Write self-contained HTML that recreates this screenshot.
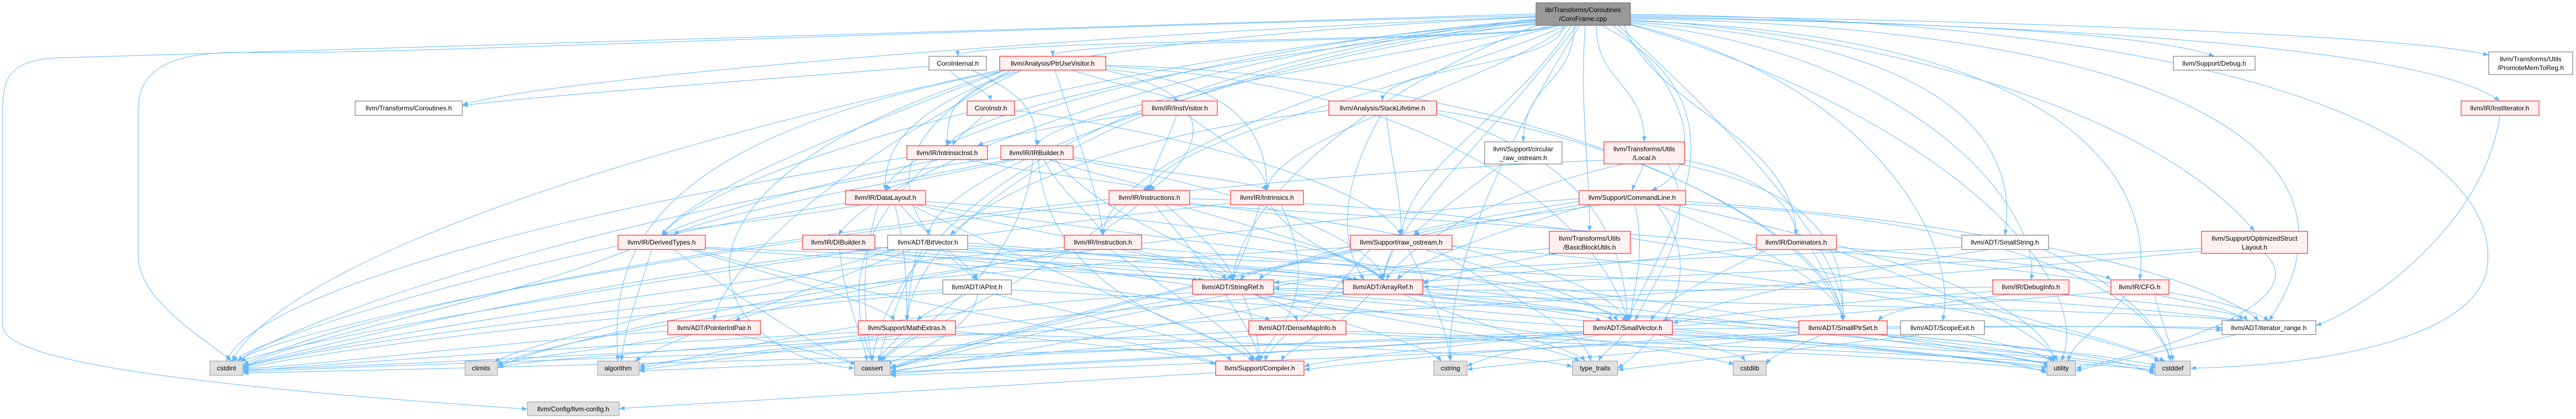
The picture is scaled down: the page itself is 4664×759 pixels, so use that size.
<!DOCTYPE html>
<html><head><meta charset="utf-8"><style>
html,body{margin:0;padding:0;background:#fff}
svg{display:block}
text{font-family:"Liberation Sans",Arial,sans-serif;font-size:12px;fill:#000}
.e path{fill:none;stroke:#63B8FF;stroke-width:1}
.r{fill:#FFF0F0;stroke:#FF0000}
.w{fill:#fff;stroke:#666}
.g{fill:#E0E0E0;stroke:#999}
.k{fill:#999;stroke:#666}
</style></head><body>
<svg width="4664" height="759" viewBox="0 0 4664 759" xmlns="http://www.w3.org/2000/svg">
<defs><marker id="a" viewBox="0 0 10 8" refX="10" refY="4" markerWidth="10" markerHeight="8" markerUnits="userSpaceOnUse" orient="auto"><polygon points="0,0 10,4 0,8" fill="#63B8FF"/></marker></defs>
<g class="e" marker-end="url(#a)">
<path marker-end="url(#a)" d="M2800 46C2800 75 1734 70 1734 102"/>
<path marker-end="url(#a)" d="M2810 46C2810 75 1906 70 1906 102"/>
<path marker-end="url(#a)" d="M2781 30C2000 60 1000 140 837 190"/>
<path marker-end="url(#a)" d="M2830 46C2830 120 2503 120 2503 183"/>
<path marker-end="url(#a)" d="M2850 46C2850 150 2758 150 2758 257"/>
<path marker-end="url(#a)" d="M2890 46C2890 150 2977 150 2977 257"/>
<path marker-end="url(#a)" d="M2920 46C3050 150 3100 300 2990 345"/>
<path marker-end="url(#a)" d="M2870 46C2860 200 2878 300 2878 419"/>
<path marker-end="url(#a)" d="M2845 46C2750 200 2550 300 2537 426"/>
<path marker-end="url(#a)" d="M2952 30C3500 40 3900 60 4009 102"/>
<path marker-end="url(#a)" d="M2952 28C3800 40 4400 70 4506 100"/>
<path marker-end="url(#a)" d="M2952 32C3800 45 4400 90 4526 183"/>
<path marker-end="url(#a)" d="M2952 36C3400 60 3900 200 4082 419"/>
<path marker-end="url(#a)" d="M2940 46C3000 200 3250 250 3252 426"/>
<path marker-end="url(#a)" d="M2952 40C3600 80 3650 300 3630 426"/>
<path marker-end="url(#a)" d="M2952 42C3500 100 3700 400 3677 507"/>
<path marker-end="url(#a)" d="M2952 38C3700 60 3900 300 3874 507"/>
<path marker-end="url(#a)" d="M2952 44C3400 150 3550 450 3517 581"/>
<path marker-end="url(#a)" d="M2930 46C3100 200 3350 450 3337 581"/>
<path marker-end="url(#a)" d="M2900 46C3200 200 3000 450 2947 581"/>
<path marker-end="url(#a)" d="M2952 34C4000 50 4300 300 4108 581"/>
<path marker-end="url(#a)" d="M2952 26C4200 40 4550 300 4500 500C4450 640 4100 665 3966 667"/>
<path marker-end="url(#a)" d="M2952 45C3500 200 3800 500 3732 654"/>
<path marker-end="url(#a)" d="M2781 40C2200 80 1600 300 1518 426"/>
<path marker-end="url(#a)" d="M2781 38C2000 100 1300 300 1198 426"/>
<path marker-end="url(#a)" d="M2820 46C2500 100 1900 200 1877 264"/>
<path marker-end="url(#a)" d="M2781 44C2200 100 1750 200 1715 264"/>
<path marker-end="url(#a)" d="M2835 46C2600 150 2100 250 2081 345"/>
<path marker-end="url(#a)" d="M2840 46C2700 150 2300 250 2294 345"/>
<path marker-end="url(#a)" d="M2781 42C2300 100 1700 300 1680 426"/>
<path marker-end="url(#a)" d="M2781 36C2200 80 1620 250 1603 345"/>
<path marker-end="url(#a)" d="M2860 46C2700 300 2620 500 2626 654"/>
<path marker-end="url(#a)" d="M2855 46C2700 250 2520 400 2504 507"/>
<path marker-end="url(#a)" d="M2781 46C2400 200 2240 400 2232 507"/>
<path marker-end="url(#a)" d="M2825 46C2400 150 2000 300 1997 426"/>
<path marker-end="url(#a)" d="M2781 34C1800 150 1600 500 1579 654"/>
<path marker-end="url(#a)" d="M2781 31C1200 100 1100 400 1119 654"/>
<path marker-end="url(#a)" d="M2781 37C1900 150 1650 450 1642 581"/>
<path marker-end="url(#a)" d="M2781 25C1500 55 300 100 100 105C10 110 5 150 5 200L5 590C5 640 200 690 955 741"/>
<path marker-end="url(#a)" d="M2781 28C1500 60 700 100 450 95C300 92 250 130 250 200L250 460C250 540 350 600 420 654"/>
<path marker-end="url(#a)" d="M1720 127C1735 150 1790 160 1794 183"/>
<path marker-end="url(#a)" d="M1760 127C1850 170 1877 200 1877 264"/>
<path marker-end="url(#a)" d="M1682 120C1300 150 900 180 837 192"/>
<path marker-end="url(#a)" d="M1850 127C1720 170 1715 200 1715 264"/>
<path marker-end="url(#a)" d="M1840 127C1650 200 1600 260 1603 345"/>
<path marker-end="url(#a)" d="M1940 127C2050 160 2100 170 2136 183"/>
<path marker-end="url(#a)" d="M1910 127C1950 250 1990 350 1997 426"/>
<path marker-end="url(#a)" d="M2000 127C2250 180 2150 300 2081 345"/>
<path marker-end="url(#a)" d="M2002 125C2250 150 2294 250 2294 345"/>
<path marker-end="url(#a)" d="M1820 127C1500 250 1250 350 1198 426"/>
<path marker-end="url(#a)" d="M1830 127C1500 300 1700 450 1769 507"/>
<path marker-end="url(#a)" d="M2002 120C2600 150 2900 400 2947 581"/>
<path marker-end="url(#a)" d="M2002 118C2800 140 3300 400 3337 581"/>
<path marker-end="url(#a)" d="M1820 127C1100 350 1300 650 1547 667"/>
<path marker-end="url(#a)" d="M1810 127C1000 300 500 500 420 654"/>
<path marker-end="url(#a)" d="M1850 127C1500 300 1300 500 1293 581"/>
<path marker-end="url(#a)" d="M1780 209C1760 230 1730 250 1725 264"/>
<path marker-end="url(#a)" d="M1837 200C2200 250 2500 350 2537 426"/>
<path marker-end="url(#a)" d="M2130 209C2110 270 2085 300 2081 345"/>
<path marker-end="url(#a)" d="M2150 209C2250 280 2290 300 2294 345"/>
<path marker-end="url(#a)" d="M2068 205C1900 230 1800 250 1770 264"/>
<path marker-end="url(#a)" d="M2510 209C2520 300 2537 350 2537 426"/>
<path marker-end="url(#a)" d="M2500 209C2420 350 2430 450 2470 507"/>
<path marker-end="url(#a)" d="M2406 200C2000 250 1800 350 1720 426"/>
<path marker-end="url(#a)" d="M2601 205C2900 300 2940 450 2947 581"/>
<path marker-end="url(#a)" d="M2601 200C3000 260 3330 450 3337 581"/>
<path marker-end="url(#a)" d="M1750 289C1900 320 2050 330 2081 345"/>
<path marker-end="url(#a)" d="M1700 289C1400 350 1250 400 1198 426"/>
<path marker-end="url(#a)" d="M1642 285C900 400 450 550 410 654"/>
<path marker-end="url(#a)" d="M1690 289C1500 450 1560 600 1579 654"/>
<path marker-end="url(#a)" d="M1840 289C1700 320 1620 330 1603 345"/>
<path marker-end="url(#a)" d="M1900 289C1990 320 2070 330 2081 345"/>
<path marker-end="url(#a)" d="M1890 289C1920 350 1990 400 1997 426"/>
<path marker-end="url(#a)" d="M1943 285C2150 320 2280 330 2294 345"/>
<path marker-end="url(#a)" d="M1830 289C1500 350 1250 400 1220 426"/>
<path marker-end="url(#a)" d="M1943 289C2300 350 2500 450 2504 507"/>
<path marker-end="url(#a)" d="M1910 289C2000 400 2200 450 2232 507"/>
<path marker-end="url(#a)" d="M1812 285C1000 400 500 600 430 654"/>
<path marker-end="url(#a)" d="M1870 289C1850 500 1650 600 1590 654"/>
<path marker-end="url(#a)" d="M1880 289C1900 550 2200 600 2281 654"/>
<path marker-end="url(#a)" d="M2060 371C2030 400 2000 410 1997 426"/>
<path marker-end="url(#a)" d="M2110 371C2180 430 2230 480 2232 507"/>
<path marker-end="url(#a)" d="M2130 371C2300 420 2480 470 2504 507"/>
<path marker-end="url(#a)" d="M2154 368C2600 420 2900 500 2947 581"/>
<path marker-end="url(#a)" d="M2008 368C1200 450 500 600 430 654"/>
<path marker-end="url(#a)" d="M2040 371C1900 500 1650 600 1595 654"/>
<path marker-end="url(#a)" d="M2090 371C2200 500 2270 600 2281 654"/>
<path marker-end="url(#a)" d="M2154 371C3000 420 4000 500 4108 581"/>
<path marker-end="url(#a)" d="M2154 360C3000 380 3800 600 3920 654"/>
<path marker-end="url(#a)" d="M2300 371C2350 450 2480 480 2504 507"/>
<path marker-end="url(#a)" d="M2228 368C1500 450 600 600 435 654"/>
<path marker-end="url(#a)" d="M2320 371C2400 550 2300 600 2281 654"/>
<path marker-end="url(#a)" d="M2280 371C2260 450 2240 480 2232 507"/>
<path marker-end="url(#a)" d="M1560 371C1400 400 1250 410 1198 426"/>
<path marker-end="url(#a)" d="M1630 371C1700 450 1760 480 1769 507"/>
<path marker-end="url(#a)" d="M1676 365C2200 400 2450 450 2504 507"/>
<path marker-end="url(#a)" d="M1660 371C1900 430 2200 470 2232 507"/>
<path marker-end="url(#a)" d="M1620 371C1640 450 1642 520 1642 581"/>
<path marker-end="url(#a)" d="M1676 371C2200 450 2800 500 2947 581"/>
<path marker-end="url(#a)" d="M1531 368C1000 450 500 600 420 654"/>
<path marker-end="url(#a)" d="M1590 371C1550 500 1570 600 1579 654"/>
<path marker-end="url(#a)" d="M1650 371C1900 500 2200 600 2270 654"/>
<path marker-end="url(#a)" d="M2900 371C2700 400 2600 410 2560 426"/>
<path marker-end="url(#a)" d="M2880 371C2700 420 2550 480 2530 507"/>
<path marker-end="url(#a)" d="M2860 365C2500 420 2300 480 2280 507"/>
<path marker-end="url(#a)" d="M2960 371C2980 450 2960 520 2950 581"/>
<path marker-end="url(#a)" d="M3000 371C3200 450 3330 520 3337 581"/>
<path marker-end="url(#a)" d="M3052 365C3600 400 4000 500 4090 581"/>
<path marker-end="url(#a)" d="M3000 371C3100 500 3000 620 2929 667"/>
<path marker-end="url(#a)" d="M2880 368C2400 450 1800 600 1612 665"/>
<path marker-end="url(#a)" d="M3052 370C3700 400 3900 550 3930 654"/>
<path marker-end="url(#a)" d="M2859 360C2000 420 1000 600 901 667"/>
<path marker-end="url(#a)" d="M3030 371C3400 450 3700 550 3720 654"/>
<path marker-end="url(#a)" d="M2975 297C2970 320 2960 330 2955 345"/>
<path marker-end="url(#a)" d="M3040 297C3300 350 3340 450 3337 581"/>
<path marker-end="url(#a)" d="M3020 297C3080 400 3000 500 2960 581"/>
<path marker-end="url(#a)" d="M3050 290C3200 320 3250 380 3252 426"/>
<path marker-end="url(#a)" d="M2940 297C2700 350 2540 450 2510 507"/>
<path marker-end="url(#a)" d="M2904 290C2000 330 800 500 440 660"/>
<path marker-end="url(#a)" d="M2820 459C2700 480 2600 500 2576 515"/>
<path marker-end="url(#a)" d="M2805 450C2300 500 1800 620 1612 668"/>
<path marker-end="url(#a)" d="M2720 297C2650 350 2580 400 2560 426"/>
<path marker-end="url(#a)" d="M2520 452C2510 480 2505 490 2504 507"/>
<path marker-end="url(#a)" d="M2470 452C2350 480 2260 490 2245 507"/>
<path marker-end="url(#a)" d="M2480 452C2400 550 2300 620 2290 654"/>
<path marker-end="url(#a)" d="M2550 452C2600 550 2620 600 2626 654"/>
<path marker-end="url(#a)" d="M2600 452C2750 550 2870 600 2880 654"/>
<path marker-end="url(#a)" d="M2445 448C1500 500 600 620 440 665"/>
<path marker-end="url(#a)" d="M2460 452C2000 550 1700 640 1612 667"/>
<path marker-end="url(#a)" d="M2629 445C3300 500 3800 600 3910 654"/>
<path marker-end="url(#a)" d="M2580 452C2750 500 2900 550 2930 581"/>
<path marker-end="url(#a)" d="M1277 448C1800 470 2300 490 2440 512"/>
<path marker-end="url(#a)" d="M1277 450C1700 480 2100 500 2170 507"/>
<path marker-end="url(#a)" d="M1260 452C1600 550 2100 620 2210 660"/>
<path marker-end="url(#a)" d="M1250 452C1400 500 1600 550 1620 581"/>
<path marker-end="url(#a)" d="M1220 452C1350 550 1500 640 1550 660"/>
<path marker-end="url(#a)" d="M1140 452C900 550 500 620 440 667"/>
<path marker-end="url(#a)" d="M1180 452C1150 550 1130 600 1125 654"/>
<path marker-end="url(#a)" d="M1584 448C2000 470 2350 490 2450 507"/>
<path marker-end="url(#a)" d="M1560 452C1800 480 2100 500 2180 507"/>
<path marker-end="url(#a)" d="M1584 452C2200 500 2800 550 2900 581"/>
<path marker-end="url(#a)" d="M1520 452C1530 550 1560 600 1570 654"/>
<path marker-end="url(#a)" d="M1550 452C1900 520 2250 550 2300 581"/>
<path marker-end="url(#a)" d="M1752 445C2100 470 2400 490 2460 507"/>
<path marker-end="url(#a)" d="M1660 452C1650 500 1645 540 1642 581"/>
<path marker-end="url(#a)" d="M1752 450C2500 480 3800 540 4060 581"/>
<path marker-end="url(#a)" d="M1650 452C1400 550 1200 620 1150 654"/>
<path marker-end="url(#a)" d="M1670 452C1620 550 1600 620 1590 654"/>
<path marker-end="url(#a)" d="M1620 452C1300 550 950 620 895 656"/>
<path marker-end="url(#a)" d="M1607 448C1100 500 600 620 440 662"/>
<path marker-end="url(#a)" d="M1752 452C2300 550 3000 620 3140 660"/>
<path marker-end="url(#a)" d="M1752 440C2500 500 3500 620 3710 660"/>
<path marker-end="url(#a)" d="M2030 452C2150 480 2210 490 2220 507"/>
<path marker-end="url(#a)" d="M1940 452C1700 500 1400 550 1330 581"/>
<path marker-end="url(#a)" d="M2067 450C2800 500 3500 620 3715 660"/>
<path marker-end="url(#a)" d="M1927 448C1300 500 600 620 440 664"/>
<path marker-end="url(#a)" d="M2010 452C2150 550 2260 620 2270 654"/>
<path marker-end="url(#a)" d="M1750 533C1720 550 1680 560 1660 581"/>
<path marker-end="url(#a)" d="M1800 533C2000 580 2200 620 2230 654"/>
<path marker-end="url(#a)" d="M1770 533C1760 600 1650 640 1605 660"/>
<path marker-end="url(#a)" d="M1707 530C1300 560 950 630 900 662"/>
<path marker-end="url(#a)" d="M1707 525C1200 560 600 630 440 668"/>
<path marker-end="url(#a)" d="M1831 525C2500 560 3400 630 3712 664"/>
<path marker-end="url(#a)" d="M2270 533C2300 550 2340 560 2349 581"/>
<path marker-end="url(#a)" d="M2306 525C3000 550 3900 560 4050 581"/>
<path marker-end="url(#a)" d="M2250 533C2270 580 2280 620 2281 654"/>
<path marker-end="url(#a)" d="M2160 530C1600 560 1300 640 1157 667"/>
<path marker-end="url(#a)" d="M2180 533C1900 580 1700 640 1612 668"/>
<path marker-end="url(#a)" d="M2270 533C2400 580 2580 620 2610 654"/>
<path marker-end="url(#a)" d="M2306 530C3000 570 3700 620 3905 662"/>
<path marker-end="url(#a)" d="M2290 533C2500 580 2800 620 2860 654"/>
<path marker-end="url(#a)" d="M2306 533C2900 580 3500 640 3706 667"/>
<path marker-end="url(#a)" d="M2576 528C2750 550 2900 560 2920 581"/>
<path marker-end="url(#a)" d="M2480 533C2420 600 2330 630 2320 654"/>
<path marker-end="url(#a)" d="M2432 530C1900 560 1400 640 1157 670"/>
<path marker-end="url(#a)" d="M2440 533C2000 600 1800 650 1612 672"/>
<path marker-end="url(#a)" d="M2560 533C3000 580 3700 640 3905 666"/>
<path marker-end="url(#a)" d="M2540 533C2700 600 2850 630 2870 654"/>
<path marker-end="url(#a)" d="M3180 448C2900 480 2700 500 2576 510"/>
<path marker-end="url(#a)" d="M3200 452C3100 500 3000 550 2990 581"/>
<path marker-end="url(#a)" d="M3325 448C3600 470 3800 490 3822 507"/>
<path marker-end="url(#a)" d="M3280 452C3320 520 3335 550 3337 581"/>
<path marker-end="url(#a)" d="M3320 452C3500 520 3700 600 3725 654"/>
<path marker-end="url(#a)" d="M3552 448C3000 470 2500 490 2306 512"/>
<path marker-end="url(#a)" d="M3600 452C3300 500 3100 550 3010 581"/>
<path marker-end="url(#a)" d="M3700 452C3850 520 3920 600 3930 654"/>
<path marker-end="url(#a)" d="M3640 533C3500 550 3420 560 3400 581"/>
<path marker-end="url(#a)" d="M3608 528C3300 550 3100 570 3028 585"/>
<path marker-end="url(#a)" d="M3730 533C3900 550 4050 560 4070 581"/>
<path marker-end="url(#a)" d="M3608 520C3000 530 2500 525 2306 522"/>
<path marker-end="url(#a)" d="M3900 533C3980 550 4050 560 4060 581"/>
<path marker-end="url(#a)" d="M3822 528C3000 600 2000 660 1612 674"/>
<path marker-end="url(#a)" d="M3900 533C3920 600 3930 620 3934 654"/>
<path marker-end="url(#a)" d="M3850 533C3800 600 3750 620 3745 654"/>
<path marker-end="url(#a)" d="M3986 450C3500 480 2800 510 2576 520"/>
<path marker-end="url(#a)" d="M4100 459C4200 550 3900 640 3758 667"/>
<path marker-end="url(#a)" d="M3986 455C3000 550 800 660 440 670"/>
<path marker-end="url(#a)" d="M1330 606C1450 630 1520 650 1550 660"/>
<path marker-end="url(#a)" d="M1209 600C900 620 600 660 440 668"/>
<path marker-end="url(#a)" d="M1250 606C1050 640 920 650 901 662"/>
<path marker-end="url(#a)" d="M1730 600C1950 620 2150 640 2201 660"/>
<path marker-end="url(#a)" d="M1600 606C1400 640 1200 650 1157 664"/>
<path marker-end="url(#a)" d="M1630 606C1610 630 1595 640 1590 654"/>
<path marker-end="url(#a)" d="M1580 606C1200 640 950 650 901 666"/>
<path marker-end="url(#a)" d="M1554 602C1000 630 600 660 440 672"/>
<path marker-end="url(#a)" d="M1730 604C2300 620 2750 640 2847 664"/>
<path marker-end="url(#a)" d="M2300 606C2000 630 1700 650 1612 676"/>
<path marker-end="url(#a)" d="M2437 600C3000 620 3700 650 3902 670"/>
<path marker-end="url(#a)" d="M2261 600C1500 640 700 660 440 674"/>
<path marker-end="url(#a)" d="M2437 604C3000 630 3600 650 3706 672"/>
<path marker-end="url(#a)" d="M2867 602C2600 630 2400 650 2361 664"/>
<path marker-end="url(#a)" d="M2867 600C2000 640 1400 660 1157 672"/>
<path marker-end="url(#a)" d="M2880 606C2300 640 1800 660 1612 678"/>
<path marker-end="url(#a)" d="M3000 606C3500 630 3800 650 3902 674"/>
<path marker-end="url(#a)" d="M2870 604C2000 640 700 670 440 676"/>
<path marker-end="url(#a)" d="M3000 606C3100 630 3150 640 3160 654"/>
<path marker-end="url(#a)" d="M2900 606C2750 630 2680 650 2656 664"/>
<path marker-end="url(#a)" d="M2940 606C2920 630 2900 640 2895 654"/>
<path marker-end="url(#a)" d="M3028 600C3400 630 3650 650 3706 676"/>
<path marker-end="url(#a)" d="M3028 596C3500 590 3900 590 4023 594"/>
<path marker-end="url(#a)" d="M3257 602C2900 620 2500 650 2361 670"/>
<path marker-end="url(#a)" d="M3257 606C2700 640 2000 665 1612 680"/>
<path marker-end="url(#a)" d="M3417 606C3700 630 3850 650 3902 678"/>
<path marker-end="url(#a)" d="M3300 606C3250 630 3210 640 3198 660"/>
<path marker-end="url(#a)" d="M3260 606C3000 640 2700 660 2656 670"/>
<path marker-end="url(#a)" d="M3400 606C3600 630 3700 640 3720 654"/>
<path marker-end="url(#a)" d="M3417 595C3700 590 3900 590 4023 598"/>
<path marker-end="url(#a)" d="M3560 606C3650 630 3700 640 3715 654"/>
<path marker-end="url(#a)" d="M3480 606C3200 640 3000 660 2929 670"/>
<path marker-end="url(#a)" d="M4050 606C3900 640 3800 660 3758 672"/>
<path marker-end="url(#a)" d="M2201 675C1800 700 1300 730 1121 740"/>
<path marker-end="url(#a)" d="M4526 209C4500 400 4300 550 4193 590"/>
</g>
<g>
<rect class="k" x="2781" y="5" width="171" height="41"/><text x="2866" y="22" text-anchor="middle">lib/Transforms/Coroutines</text><text x="2866" y="38" text-anchor="middle">/CoroFrame.cpp</text>
<rect class="w" x="1682" y="102" width="104" height="25"/><text x="1734" y="119" text-anchor="middle">CoroInternal.h</text>
<rect class="r" x="1810" y="102" width="192" height="25"/><text x="1906" y="119" text-anchor="middle">llvm/Analysis/PtrUseVisitor.h</text>
<rect class="w" x="3935" y="102" width="148" height="25"/><text x="4009" y="119" text-anchor="middle">llvm/Support/Debug.h</text>
<rect class="w" x="4506" y="94" width="152" height="41"/><text x="4582" y="111" text-anchor="middle">llvm/Transforms/Utils</text><text x="4582" y="127" text-anchor="middle">/PromoteMemToReg.h</text>
<rect class="w" x="643" y="183" width="194" height="26"/><text x="740" y="200" text-anchor="middle">llvm/Transforms/Coroutines.h</text>
<rect class="r" x="1751" y="183" width="86" height="26"/><text x="1794" y="200" text-anchor="middle">CoroInstr.h</text>
<rect class="r" x="2068" y="183" width="136" height="26"/><text x="2136" y="200" text-anchor="middle">llvm/IR/InstVisitor.h</text>
<rect class="r" x="2406" y="183" width="195" height="26"/><text x="2503" y="200" text-anchor="middle">llvm/Analysis/StackLifetime.h</text>
<rect class="r" x="4456" y="183" width="141" height="26"/><text x="4526" y="200" text-anchor="middle">llvm/IR/InstIterator.h</text>
<rect class="w" x="2688" y="257" width="140" height="40"/><text x="2758" y="274" text-anchor="middle">llvm/Support/circular</text><text x="2758" y="290" text-anchor="middle">_raw_ostream.h</text>
<rect class="r" x="2904" y="257" width="146" height="40"/><text x="2977" y="274" text-anchor="middle">llvm/Transforms/Utils</text><text x="2977" y="290" text-anchor="middle">/Local.h</text>
<rect class="r" x="1642" y="264" width="146" height="25"/><text x="1715" y="281" text-anchor="middle">llvm/IR/IntrinsicInst.h</text>
<rect class="r" x="1812" y="264" width="131" height="25"/><text x="1877" y="281" text-anchor="middle">llvm/IR/IRBuilder.h</text>
<rect class="r" x="1531" y="345" width="145" height="26"/><text x="1603" y="362" text-anchor="middle">llvm/IR/DataLayout.h</text>
<rect class="r" x="2008" y="345" width="146" height="26"/><text x="2081" y="362" text-anchor="middle">llvm/IR/Instructions.h</text>
<rect class="r" x="2228" y="345" width="132" height="26"/><text x="2294" y="362" text-anchor="middle">llvm/IR/Intrinsics.h</text>
<rect class="r" x="2859" y="345" width="193" height="26"/><text x="2955" y="362" text-anchor="middle">llvm/Support/CommandLine.h</text>
<rect class="r" x="1119" y="426" width="158" height="26"/><text x="1198" y="443" text-anchor="middle">llvm/IR/DerivedTypes.h</text>
<rect class="r" x="1453" y="426" width="131" height="26"/><text x="1518" y="443" text-anchor="middle">llvm/IR/DIBuilder.h</text>
<rect class="w" x="1607" y="426" width="145" height="26"/><text x="1680" y="443" text-anchor="middle">llvm/ADT/BitVector.h</text>
<rect class="r" x="1927" y="426" width="140" height="26"/><text x="1997" y="443" text-anchor="middle">llvm/IR/Instruction.h</text>
<rect class="r" x="2445" y="426" width="184" height="26"/><text x="2537" y="443" text-anchor="middle">llvm/Support/raw_ostream.h</text>
<rect class="r" x="2805" y="419" width="147" height="40"/><text x="2878" y="436" text-anchor="middle">llvm/Transforms/Utils</text><text x="2878" y="452" text-anchor="middle">/BasicBlockUtils.h</text>
<rect class="r" x="3180" y="426" width="145" height="26"/><text x="3252" y="443" text-anchor="middle">llvm/IR/Dominators.h</text>
<rect class="w" x="3552" y="426" width="157" height="26"/><text x="3630" y="443" text-anchor="middle">llvm/ADT/SmallString.h</text>
<rect class="r" x="3986" y="419" width="192" height="40"/><text x="4082" y="436" text-anchor="middle">llvm/Support/OptimizedStruct</text><text x="4082" y="452" text-anchor="middle">Layout.h</text>
<rect class="w" x="1707" y="507" width="124" height="26"/><text x="1769" y="524" text-anchor="middle">llvm/ADT/APInt.h</text>
<rect class="r" x="2159" y="507" width="147" height="26"/><text x="2232" y="524" text-anchor="middle">llvm/ADT/StringRef.h</text>
<rect class="r" x="2432" y="507" width="144" height="26"/><text x="2504" y="524" text-anchor="middle">llvm/ADT/ArrayRef.h</text>
<rect class="r" x="3608" y="507" width="138" height="26"/><text x="3677" y="524" text-anchor="middle">llvm/IR/DebugInfo.h</text>
<rect class="r" x="3822" y="507" width="105" height="26"/><text x="3874" y="524" text-anchor="middle">llvm/IR/CFG.h</text>
<rect class="r" x="1209" y="581" width="168" height="25"/><text x="1293" y="598" text-anchor="middle">llvm/ADT/PointerIntPair.h</text>
<rect class="r" x="1554" y="581" width="176" height="25"/><text x="1642" y="598" text-anchor="middle">llvm/Support/MathExtras.h</text>
<rect class="r" x="2261" y="581" width="176" height="25"/><text x="2349" y="598" text-anchor="middle">llvm/ADT/DenseMapInfo.h</text>
<rect class="r" x="2867" y="581" width="161" height="25"/><text x="2947" y="598" text-anchor="middle">llvm/ADT/SmallVector.h</text>
<rect class="r" x="3257" y="581" width="160" height="25"/><text x="3337" y="598" text-anchor="middle">llvm/ADT/SmallPtrSet.h</text>
<rect class="w" x="3441" y="581" width="152" height="25"/><text x="3517" y="598" text-anchor="middle">llvm/ADT/ScopeExit.h</text>
<rect class="w" x="4023" y="581" width="170" height="25"/><text x="4108" y="598" text-anchor="middle">llvm/ADT/iterator_range.h</text>
<rect class="g" x="380" y="654" width="60" height="26"/><text x="410" y="671" text-anchor="middle">cstdint</text>
<rect class="g" x="842" y="654" width="59" height="26"/><text x="871" y="671" text-anchor="middle">climits</text>
<rect class="g" x="1082" y="654" width="75" height="26"/><text x="1119" y="671" text-anchor="middle">algorithm</text>
<rect class="g" x="1547" y="654" width="65" height="26"/><text x="1579" y="671" text-anchor="middle">cassert</text>
<rect class="r" x="2201" y="654" width="160" height="26"/><text x="2281" y="671" text-anchor="middle">llvm/Support/Compiler.h</text>
<rect class="g" x="2596" y="654" width="60" height="26"/><text x="2626" y="671" text-anchor="middle">cstring</text>
<rect class="g" x="2847" y="654" width="82" height="26"/><text x="2888" y="671" text-anchor="middle">type_traits</text>
<rect class="g" x="3138" y="654" width="60" height="26"/><text x="3168" y="671" text-anchor="middle">cstdlib</text>
<rect class="g" x="3706" y="654" width="52" height="26"/><text x="3732" y="671" text-anchor="middle">utility</text>
<rect class="g" x="3902" y="654" width="64" height="26"/><text x="3934" y="671" text-anchor="middle">cstddef</text>
<rect class="g" x="955" y="728" width="166" height="25"/><text x="1038" y="745" text-anchor="middle">llvm/Config/llvm-config.h</text>
</g>
</svg>
</body></html>
